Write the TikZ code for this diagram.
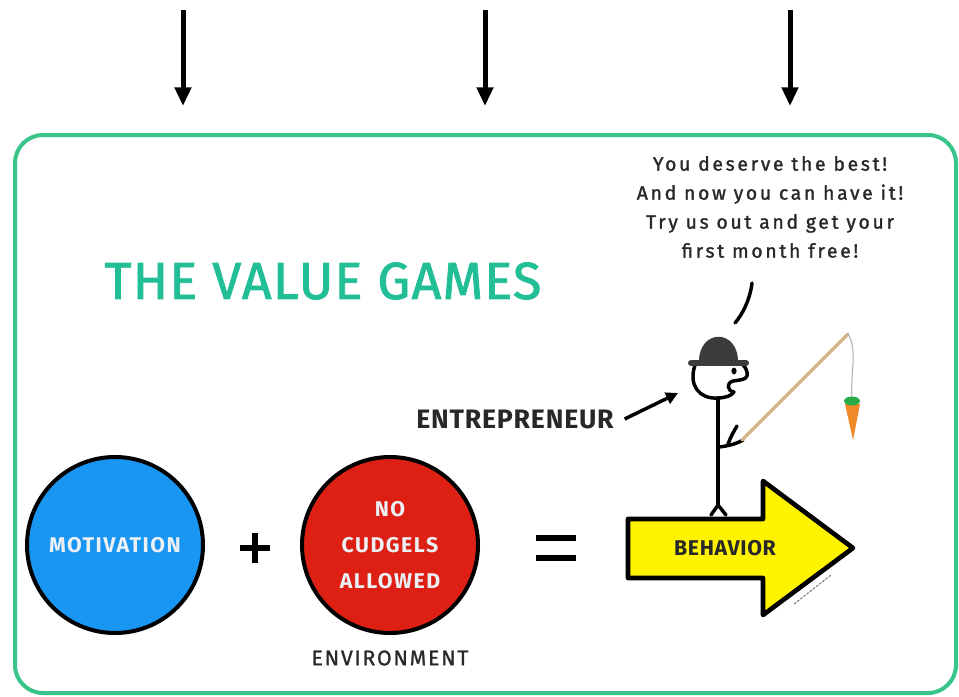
\documentclass[tikz,border=0pt]{standalone}
\usepackage{fontspec}
\setmainfont{Fira Sans}
\newfontfamily\titlefont[LetterSpace=2.5, FakeBold=1.6]{Fira Sans}
\newfontfamily\labelfont[LetterSpace=3]{Fira Sans}
\newfontfamily\circlefont[LetterSpace=7]{Fira Sans}
\newfontfamily\captionfont[LetterSpace=8, FakeBold=1]{Fira Sans}
\newfontfamily\speechfont[LetterSpace=14, FakeBold=1.4]{Fira Sans}
\usetikzlibrary{arrows.meta}

\definecolor{framegreen}{RGB}{56,196,138}
\definecolor{titlegreen}{RGB}{34,190,150}
\definecolor{motblue}{RGB}{24,150,242}
\definecolor{envred}{RGB}{222,32,20}
\definecolor{signyellow}{RGB}{255,243,0}
\definecolor{hatgrey}{RGB}{60,60,60}
\definecolor{rodtan}{RGB}{216,180,140}
\definecolor{carrotorange}{RGB}{240,136,40}
\definecolor{leafgreen}{RGB}{40,170,70}
\definecolor{inkgrey}{RGB}{40,40,40}
\definecolor{circletext}{RGB}{235,240,245}

\tikzset{
  toparrow/.style={line width=3.75pt, -{Triangle[length=14pt,width=12pt]}},
  bigcircle/.style={circle, draw=black, line width=3pt, minimum size=132pt, inner sep=0pt,
    text=circletext, font=\circlefont\bfseries\fontsize{16}{27}\selectfont, align=center},
  ink/.style={line width=2.6pt, line cap=round, line join=round},
  op/.style={line width=4.5pt},
  caption/.style={inner sep=0pt, font=\captionfont\fontsize{16}{16}\selectfont, text=inkgrey},
}

\begin{document}
\begin{tikzpicture}[x=0.75pt, y=-0.75pt]
\useasboundingbox (0,0) rectangle (959,696);
\fill[white] (0,0) rectangle (959,696);

% three incoming arrows
\foreach \i/\x in {1/183, 2/485, 3/790} {
  \coordinate (top\i) at (\x,10);
  \coordinate (bot\i) at (\x,106);
  \draw[toparrow] (top\i) -- (bot\i);
}

% frame
\draw[framegreen, line width=3pt, rounded corners=21pt] (15,135) rectangle (956,693);

% title
\node[inner sep=0pt, text=titlegreen, font=\titlefont\fontsize{39}{39}\selectfont] (title) at (323,281) {THE VALUE GAMES};

% motivation + environment = behavior
\node[bigcircle, fill=motblue] (motivation) at (115,545) {MOTIVATION};
\node[bigcircle, fill=envred] (environment) at (390,545) {NO\\CUDGELS\\ALLOWED};
\node[caption] (envlabel) at (390,658) {ENVIRONMENT};

\coordinate (plus) at (255,548);
\draw[op] ([xshift=-11.5]plus) -- ([xshift=11.5]plus);
\draw[op] ([yshift=-11.5]plus) -- ([yshift=11.5]plus);

\coordinate (equals) at (556,548);
\draw[op] ([xshift=-15,yshift=-7.5]equals) -- ([xshift=15,yshift=-7.5]equals);
\draw[op] ([xshift=-15,yshift=7.5]equals) -- ([xshift=15,yshift=7.5]equals);

% yellow behavior arrow
\draw[fill=signyellow, line width=3.5pt, line join=round]
  (628,519) -- (763,519) -- (763,481) -- (853,548) -- (763,615) -- (763,578) -- (628,578) -- cycle;
\node[inner sep=0pt, font=\labelfont\bfseries\fontsize{16}{16}\selectfont, text=inkgrey] (behavior) at (725,548) {BEHAVIOR};
\draw[gray, line width=0.8pt, dash pattern=on 2pt off 1pt] (794,604) -- (831,575);

% stick figure: body, legs, arm
\coordinate (neck) at (718,398);
\coordinate (hip) at (718,505);
\draw[ink] (neck) -- (hip);
\draw[ink] (hip) -- (711,515);
\draw[ink] (hip) -- (726,515);
\draw[ink] (719,447) .. controls (728,446) and (736,444) .. (743,440);
\draw[ink] (728,444) .. controls (731,436) and (734,431) .. (737,426);

% head with open mouth
\draw[ink] (695,365) .. controls (688,386) and (700,399) .. (717,398)
  .. controls (725,398) and (731,396) .. (734,392)
  .. controls (727,391) and (726,383) .. (733,381)
  .. controls (739,380) and (746,380) .. (747,376)
  .. controls (748,371) and (745,367) .. (743,365);
\fill (734,371) ellipse (2.6 and 3.4);

% bowler hat
\fill[hatgrey] (699,363) .. controls (698,328) and (739,328) .. (738,363) -- cycle;
\draw[hatgrey, line width=4.5pt, line cap=round] (691,363) -- (746,363);

% fishing rod, line and carrot
\coordinate (rodtip) at (848,334);
\coordinate (hand) at (742,440);
\draw[rodtan, line width=2.6pt, line cap=round] (hand) -- (rodtip);
\coordinate (bait) at (852,398);
\draw[gray!60, line width=0.8pt] (rodtip) .. controls (858,350) and (850,375) .. (bait);
\fill[carrotorange] (845,404) -- (860,404) -- (853,440) -- cycle;
\fill[leafgreen] (852,401) ellipse (8 and 4.5);

% speech
\node[inner sep=0pt, align=center, font=\speechfont\fontsize{14.5}{21.75}\selectfont, text=inkgrey] (speech) at (770,207)
  {You deserve the best!\\And now you can have it!\\Try us out and get your\\first month free!};
\coordinate (saytop) at (752,283);
\coordinate (saybot) at (735,323);
\draw[ink] (saytop) .. controls (750,300) and (742,315) .. (saybot);

% entrepreneur label
\node[inner sep=0pt, font=\labelfont\bfseries\fontsize{20}{20}\selectfont, text=inkgrey] (entrepreneur) at (515,419) {ENTREPRENEUR};
\coordinate (pointer) at (678,393);
\draw[line width=2.6pt, -{Triangle[length=9pt,width=9pt]}] ([xshift=8]entrepreneur.east) -- (pointer);

\end{tikzpicture}
\end{document}
